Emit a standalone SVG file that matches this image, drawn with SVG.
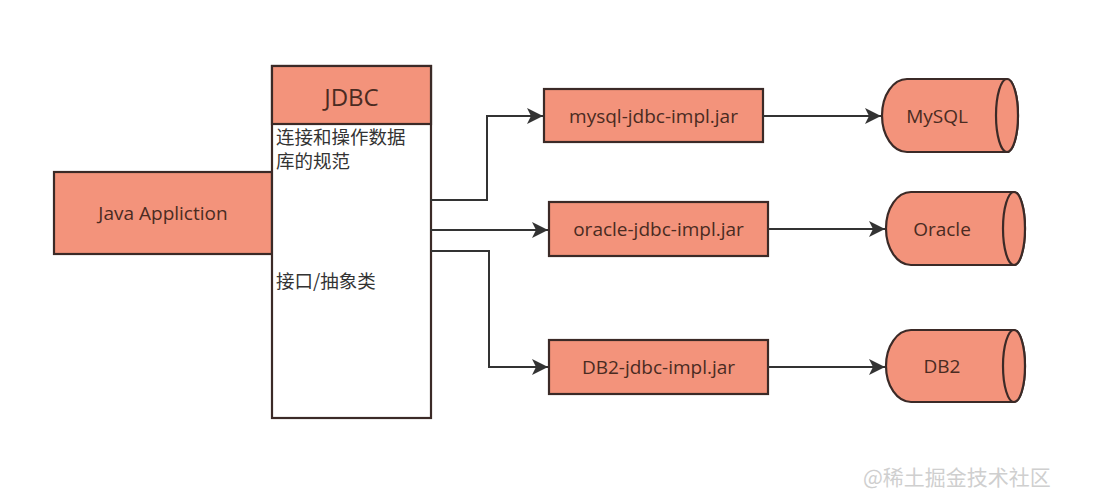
<svg xmlns="http://www.w3.org/2000/svg" width="1103" height="497" viewBox="0 0 1103 497">
<defs>
<style>
.n{fill:#F3937B;stroke:#3b2a27;stroke-width:2.2}
.w{fill:#ffffff;stroke:#3b2a27;stroke-width:2.2}
.t{font-family:"Open Sans","Noto Sans","Noto Sans CJK SC",sans-serif;font-size:19px;fill:#4a2b22;text-anchor:middle;dominant-baseline:central}
.c{font-family:"Noto Sans CJK SC","Noto Sans",sans-serif;font-size:18.5px;fill:#333333}
.e{fill:none;stroke:#333333;stroke-width:2}
</style>
<marker id="ah" viewBox="0 0 10 10" refX="10" refY="5" markerWidth="22" markerHeight="16" markerUnits="userSpaceOnUse" orient="auto">
<path d="M0,0 L10,5 L0,10 L2.5,5 Z" fill="#333333"/>
</marker>
</defs>
<rect width="1103" height="497" fill="#ffffff"/>
<g id="java-app">
<rect class="n" x="54" y="172" width="218" height="82"/>
<text class="t" x="163" y="213">Java Appliction</text>
</g>
<g id="jdbc">
<rect class="w" x="272" y="66" width="159" height="352"/>
<rect class="n" x="272" y="66" width="159" height="58"/>
<text class="t" x="351.5" y="96" style="font-size:24px">JDBC</text>
<text class="c" x="276" y="144">连接和操作数据</text>
<text class="c" x="276" y="168">库的规范</text>
<text class="c" x="276" y="288">接口/抽象类</text>
</g>
<g id="mysql-jar">
<rect class="n" x="544" y="89" width="219" height="53"/>
<text class="t" x="653.5" y="115.5">mysql-jdbc-impl.jar</text>
</g>
<g id="oracle-jar">
<rect class="n" x="549" y="202" width="219" height="54"/>
<text class="t" x="658.5" y="229">oracle-jdbc-impl.jar</text>
</g>
<g id="db2-jar">
<rect class="n" x="549" y="340" width="219" height="54"/>
<text class="t" x="658.5" y="367">DB2-jdbc-impl.jar</text>
</g>
<g id="mysql-db">
<path class="n" d="M907,79 L1007,79 A11,36.5 0 0 1 1007,152 L907,152 A25,36.5 0 0 1 907,79 Z"/>
<ellipse class="n" cx="1007" cy="115.5" rx="11" ry="36.5"/>
<text class="t" x="937" y="115.5">MySQL</text>
</g>
<g id="oracle-db">
<path class="n" d="M911,192 L1014,192 A11,36.5 0 0 1 1014,265 L911,265 A25,36.5 0 0 1 911,192 Z"/>
<ellipse class="n" cx="1014" cy="228.5" rx="11" ry="36.5"/>
<text class="t" x="942" y="228.5">Oracle</text>
</g>
<g id="db2-db">
<path class="n" d="M911,330 L1014,330 A11,36 0 0 1 1014,402 L911,402 A25,36 0 0 1 911,330 Z"/>
<ellipse class="n" cx="1014" cy="366" rx="11" ry="36"/>
<text class="t" x="942" y="366">DB2</text>
</g>
<g id="connectors">
<path class="e" d="M430,200 L487,200 L487,116 L543,116" marker-end="url(#ah)"/>
<path class="e" d="M430,230 L548,230" marker-end="url(#ah)"/>
<path class="e" d="M431,251 L489,251 L489,367 L548,367" marker-end="url(#ah)"/>
<path class="e" d="M763,116 L881,116" marker-end="url(#ah)"/>
<path class="e" d="M768,229 L885,229" marker-end="url(#ah)"/>
<path class="e" d="M768,367 L885,367" marker-end="url(#ah)"/>
</g>
<text x="863" y="485" font-family="'Noto Sans CJK SC','Noto Sans',sans-serif" font-size="21" fill="#cfcfcf">@稀土掘金技术社区</text>
</svg>
